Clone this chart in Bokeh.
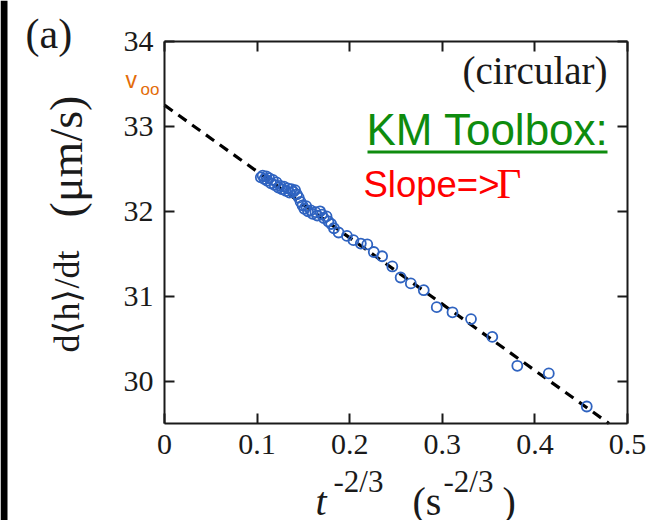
import math
from bokeh.plotting import figure
from bokeh.models import LinearAxis, FixedTicker, Label, BoxAnnotation, Range1d
from bokeh.core.properties import value
from bokeh.embed import file_html
from bokeh.resources import INLINE

# ---- data ----
t_pow = [0.104, 0.106, 0.108, 0.110, 0.111, 0.113, 0.115, 0.117, 0.119, 0.121,
         0.123, 0.125, 0.127, 0.129, 0.131, 0.133, 0.135, 0.137, 0.139, 0.141,
         0.143, 0.145, 0.147, 0.149, 0.151, 0.153, 0.155, 0.158, 0.160, 0.163,
         0.165, 0.168, 0.170, 0.172, 0.175, 0.177, 0.180, 0.183,
         0.188, 0.197, 0.204, 0.212, 0.219, 0.226, 0.235, 0.246, 0.255, 0.266,
         0.280, 0.294, 0.311, 0.331, 0.354, 0.381, 0.415, 0.456]
velocity = [32.40, 32.42, 32.38, 32.41, 32.36, 32.39, 32.33, 32.37, 32.31, 32.34,
            32.28, 32.30, 32.26, 32.29, 32.24, 32.27, 32.22, 32.26, 32.23, 32.25,
            32.20, 32.16, 32.11, 32.07, 32.03, 32.06, 32.00, 32.01, 31.97, 31.99,
            31.95, 32.00, 31.96, 31.92, 31.94, 31.88, 31.85, 31.80,
            31.75, 31.71, 31.66, 31.62, 31.61, 31.52, 31.47, 31.35, 31.22, 31.15,
            31.07, 30.87, 30.81, 30.73, 30.52, 30.18, 30.09, 29.70]
fit_x = [0.0, 0.48]
fit_y = [33.25, 29.50]
x_ticks = [0, 0.1, 0.2, 0.3, 0.4, 0.5]
x_tick_labels = ["0", "0.1", "0.2", "0.3", "0.4", "0.5"]
y_ticks = [30, 31, 32, 33, 34]
y_tick_labels = ["30", "31", "32", "33", "34"]
x_lo, x_hi = 0.0, 0.5
y_lo, y_hi = 29.5, 34.0

SERIF = "Liberation Serif"
SANS = "Liberation Sans"
AXC = "#1a1a1a"

# canvas and axes-box geometry (pixels)
W, H = 661, 520
FL, FR, FT, FB = 164, 627, 41, 423
sx = (FR - FL) / (x_hi - x_lo)
sy = (FB - FT) / (y_hi - y_lo)
x_range = Range1d(x_lo - FL / sx, x_hi + (W - FR) / sx)
y_range = Range1d(y_lo - (H - FB) / sy, y_hi + FT / sy)

p = figure(width=W, height=H, output_backend="svg", toolbar_location=None,
           x_range=x_range, y_range=y_range,
           min_border_left=0, min_border_right=0, min_border_top=0,
           min_border_bottom=0, x_axis_location=None, y_axis_location=None)
p.grid.visible = False
p.outline_line_color = None
p.background_fill_color = "white"
p.border_fill_color = "white"


def style_axis(ax, ticks, labels, show):
    ax.ticker = FixedTicker(ticks=ticks)
    ax.axis_line_color = AXC
    ax.axis_line_width = 2
    ax.major_tick_line_color = AXC
    ax.major_tick_line_width = 2
    ax.major_tick_in = 10
    ax.major_tick_out = 0
    ax.minor_tick_line_color = None
    if show:
        ax.major_label_overrides = {t: l for t, l in zip(ticks, labels)}
        ax.major_label_text_font = SERIF
        ax.major_label_text_font_size = "30px"
        ax.major_label_text_color = AXC
    else:
        ax.major_label_overrides = {t: "" for t in ticks}
        ax.major_label_text_font_size = "1px"
        ax.major_label_standoff = 0


bx = LinearAxis(fixed_location=y_lo, bounds=(x_lo, x_hi))
style_axis(bx, x_ticks, x_tick_labels, True)
bx.major_label_standoff = 11
p.add_layout(bx, "below")
tx = LinearAxis(fixed_location=y_hi, bounds=(x_lo, x_hi))
style_axis(tx, x_ticks, x_tick_labels, False)
p.add_layout(tx, "above")
ly = LinearAxis(fixed_location=x_lo, bounds=(y_lo, y_hi))
style_axis(ly, y_ticks, y_tick_labels, True)
ly.major_label_standoff = 11
p.add_layout(ly, "left")
ry = LinearAxis(fixed_location=x_hi, bounds=(y_lo, y_hi))
style_axis(ry, y_ticks, y_tick_labels, False)
p.add_layout(ry, "right")

p.line(fit_x, fit_y, line_color="black", line_width=3.2, line_dash="10 7")
p.scatter(t_pow, velocity, marker="circle", size=10, fill_color=None,
          line_color="#2F63C0", line_width=1.8)


def lab(text, x, y, size, font=SERIF, color=AXC, align="left", style="normal"):
    # x: pixels from the left, y: pixels from the top of the picture (text middle)
    p.add_layout(Label(text=text, x=x, y=H - y, x_units="screen", y_units="screen",
                       text_font=font, text_font_size=size, text_color=color,
                       text_align=align, text_baseline="middle",
                       text_font_style=style))


def vtext(text, x, y, size, style="normal"):
    # rotated (bottom-to-top) text at picture pixel (x, y)
    p.text(x=[x_range.start + x / sx], y=[y_range.end - y / sy], text=[text],
           angle=math.pi / 2, text_font=value(SERIF), text_font_size=value(size),
           text_color=AXC, text_align="center", text_baseline="middle",
           text_font_style=style)


# dark strip at the left edge
p.add_layout(BoxAnnotation(left=0, right=7, bottom=0, top=H,
                           left_units="screen", right_units="screen",
                           bottom_units="screen", top_units="screen",
                           fill_color="black", fill_alpha=1, line_color=None))
# panel label
lab("(a)", 25, 33, "42px")
# v-infinity annotation
lab("v", 125, 79, "23px", font=SANS, color="#E36C09")
lab("oo", 140, 89, "17px", font=SANS, color="#E36C09")
# in-plot annotations
lab("(circular)", 607, 70, "39px", align="right")
lab("KM Toolbox:", 366, 129, "44px", font=SANS, color="#0E8C0E")
p.add_layout(BoxAnnotation(left=367, right=607, bottom=H - 153, top=H - 150,
                           left_units="screen", right_units="screen",
                           bottom_units="screen", top_units="screen",
                           fill_color="#0E8C0E", fill_alpha=1, line_color=None))
lab("Slope=>", 363, 184, "36.5px", font=SANS, color="#FF0000")
lab("\u0393", 496, 183, "43px", color="#FF0000")
# y axis label (reads bottom to top)
vtext("d\u27e8h\u27e9/dt", 66, 301, "36px")
vtext("(\u03bcm/s)", 66, 156, "46px")
# x axis label
lab("t", 315, 501, "40px", style="italic")
lab("-2/3", 333, 481, "31px")
lab("(s", 412, 501, "40px")
lab("-2/3", 443, 481, "31px")
lab(")", 502, 501, "40px")

open("out.html", "w").write(file_html(p, INLINE))
